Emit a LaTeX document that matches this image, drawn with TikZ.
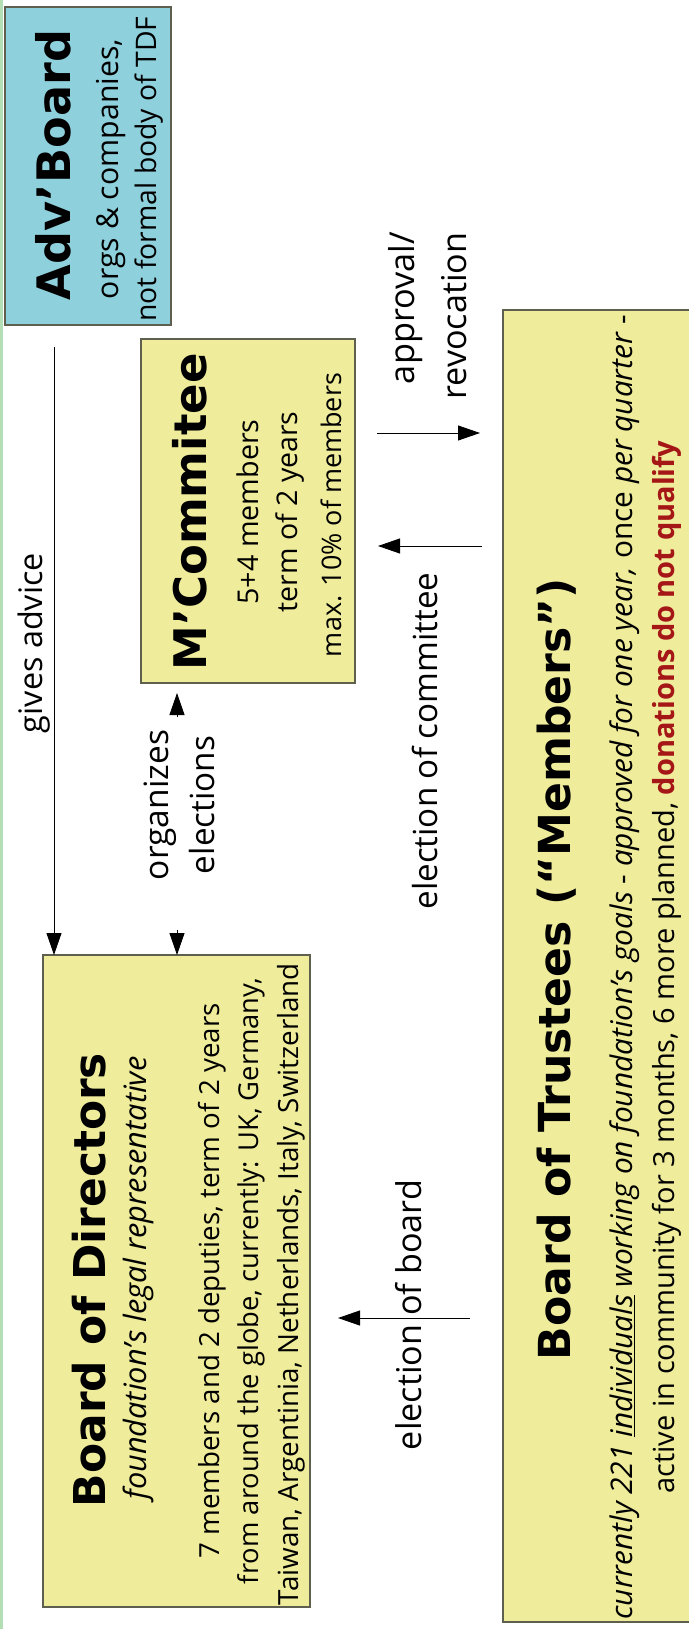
\documentclass[tikz,border=0pt]{standalone}
\usepackage{fontspec}
\usepackage{graphicx}
\setmainfont{Open Sans}
\newfontfamily\ttlfont{DejaVu Sans}
\usetikzlibrary{arrows.meta}
\definecolor{boxyellow}{RGB}{239,236,155}
\definecolor{boxcyan}{RGB}{143,208,221}
\definecolor{boxline}{RGB}{95,95,80}
\definecolor{darkred}{RGB}{165,22,22}
\definecolor{edgegreen}{RGB}{180,222,180}
\newcommand{\fitto}[2]{\resizebox{#1pt}{!}{#2}}
\newcommand{\ttl}[1]{{\ttlfont\bfseries\fontsize{44}{50}\selectfont #1}}
\newcommand{\bdy}[1]{{\fontsize{27}{32}\selectfont #1}}
\begin{document}
\begin{tikzpicture}[x=1pt,y=-1pt,
  box/.style={draw=boxline, line width=1.3pt, inner sep=0pt, outer sep=0pt},
  txt/.style={rotate=90, anchor=base, inner sep=0pt, outer sep=0pt},
  conn/.style={draw=black, line width=0.9pt, -{Triangle[length=22pt,width=15pt]}},
]
\useasboundingbox (0,0) rectangle (688,1629);
\fill[white] (0,0) rectangle (688,1629);
\draw[edgegreen, line width=2.5pt] (1.5,0) -- (1.5,1629);

% boxes
\node[box, fill=boxcyan,   minimum width=166pt, minimum height=318pt]  (adv) at (88,166) {};
\node[box, fill=boxyellow, minimum width=214pt, minimum height=344pt]  (mc)  at (248,511) {};
\node[box, fill=boxyellow, minimum width=267pt, minimum height=652pt]  (bod) at (176.5,1281) {};
\node[box, fill=boxyellow, minimum width=197pt, minimum height=1312pt] (tr)  at (601.5,966) {};

% Adv'Board text
\node[txt] (advT)  at (70,165)  {\fitto{270}{\ttl{Adv’Board}}};
\node[txt] (advL1) at (118,169) {\fitto{260}{\bdy{orgs \& companies,}}};
\node[txt] (advL2) at (156,169) {\fitto{305}{\bdy{not formal body of TDF}}};

% M'Commitee text
\node[txt] (mcT)  at (206,512) {\fitto{317}{\ttl{M’Commitee}}};
\node[txt] (mcL1) at (258,512) {\fitto{185}{\bdy{5+4 members}}};
\node[txt] (mcL2) at (297,512) {\fitto{201}{\bdy{term of 2 years}}};
\node[txt] (mcL3) at (341,515) {\fitto{284}{\bdy{max. 10\% of members}}};

% Board of Directors text
\node[txt] (bodT)  at (105,1280) {\fitto{454}{\ttl{Board of Directors}}};
\node[txt] (bodL1) at (146,1278) {\fitto{443}{\bdy{\itshape foundation’s legal representative}}};
\node[txt] (bodL2) at (219,1281) {\fitto{555}{\bdy{7 members and 2 deputies, term of 2 years}}};
\node[txt] (bodL3) at (258,1281) {\fitto{606}{\bdy{from around the globe, currently: UK, Germany,}}};
\node[txt] (bodL4) at (298,1284) {\fitto{642}{\bdy{Taiwan, Argentinia, Netherlands, Italy, Switzerland}}};

% Board of Trustees text
\node[txt] (trT)  at (570,969) {\fitto{782}{\ttl{Board of Trustees (“Members”)}}};
\node[txt] (trL1) at (632,967) {\fitto{1305}{\bdy{\textit{currently 221 \underline{individuals} working on foundation’s goals} - \textit{approved for one year,} once \textit{per quarter} -}}};
\node[txt] (trL2) at (674,967) {\fitto{1053}{\bdy{active in community for 3 months, 6 more planned, \textcolor{darkred}{\bfseries donations do not qualify}}}};

% connectors
\coordinate (gx) at (54,0);
\draw[conn, shorten <=22pt] (adv.south -| gx) -- (bod.north -| gx);

\coordinate (o1) at (177,717);
\coordinate (o2) at (177,930);
\draw[conn, shorten >=10pt] (o1) -- (mc.south -| o1);
\draw[conn] (o2) -- (bod.north -| o2);

\coordinate (ya) at (0,433);
\draw[conn, shorten <=22pt, shorten >=23pt] (mc.east |- ya) -- (tr.west |- ya);
\coordinate (yc) at (0,546);
\draw[conn, shorten <=21pt, shorten >=23pt] (tr.west |- yc) -- (mc.east |- yc);
\coordinate (yb) at (0,1318);
\draw[conn, shorten <=33pt, shorten >=28pt] (tr.west |- yb) -- (bod.east |- yb);

% connector labels
\node[txt] (lGive) at (42,643)   {\fitto{180}{\bdy{gives advice}}};
\node[txt] (lOrg1) at (168,805)  {\fitto{150}{\bdy{organizes}}};
\node[txt] (lOrg2) at (214,805)  {\fitto{138}{\bdy{elections}}};
\node[txt] (lApp1) at (414,308)  {\fitto{152}{\bdy{approval/}}};
\node[txt] (lApp2) at (466,316)  {\fitto{167}{\bdy{revocation}}};
\node[txt] (lCom)  at (437,741)  {\fitto{337}{\bdy{election of committee}}};
\node[txt] (lBoard) at (421,1315) {\fitto{270}{\bdy{election of board}}};
\end{tikzpicture}
\end{document}
